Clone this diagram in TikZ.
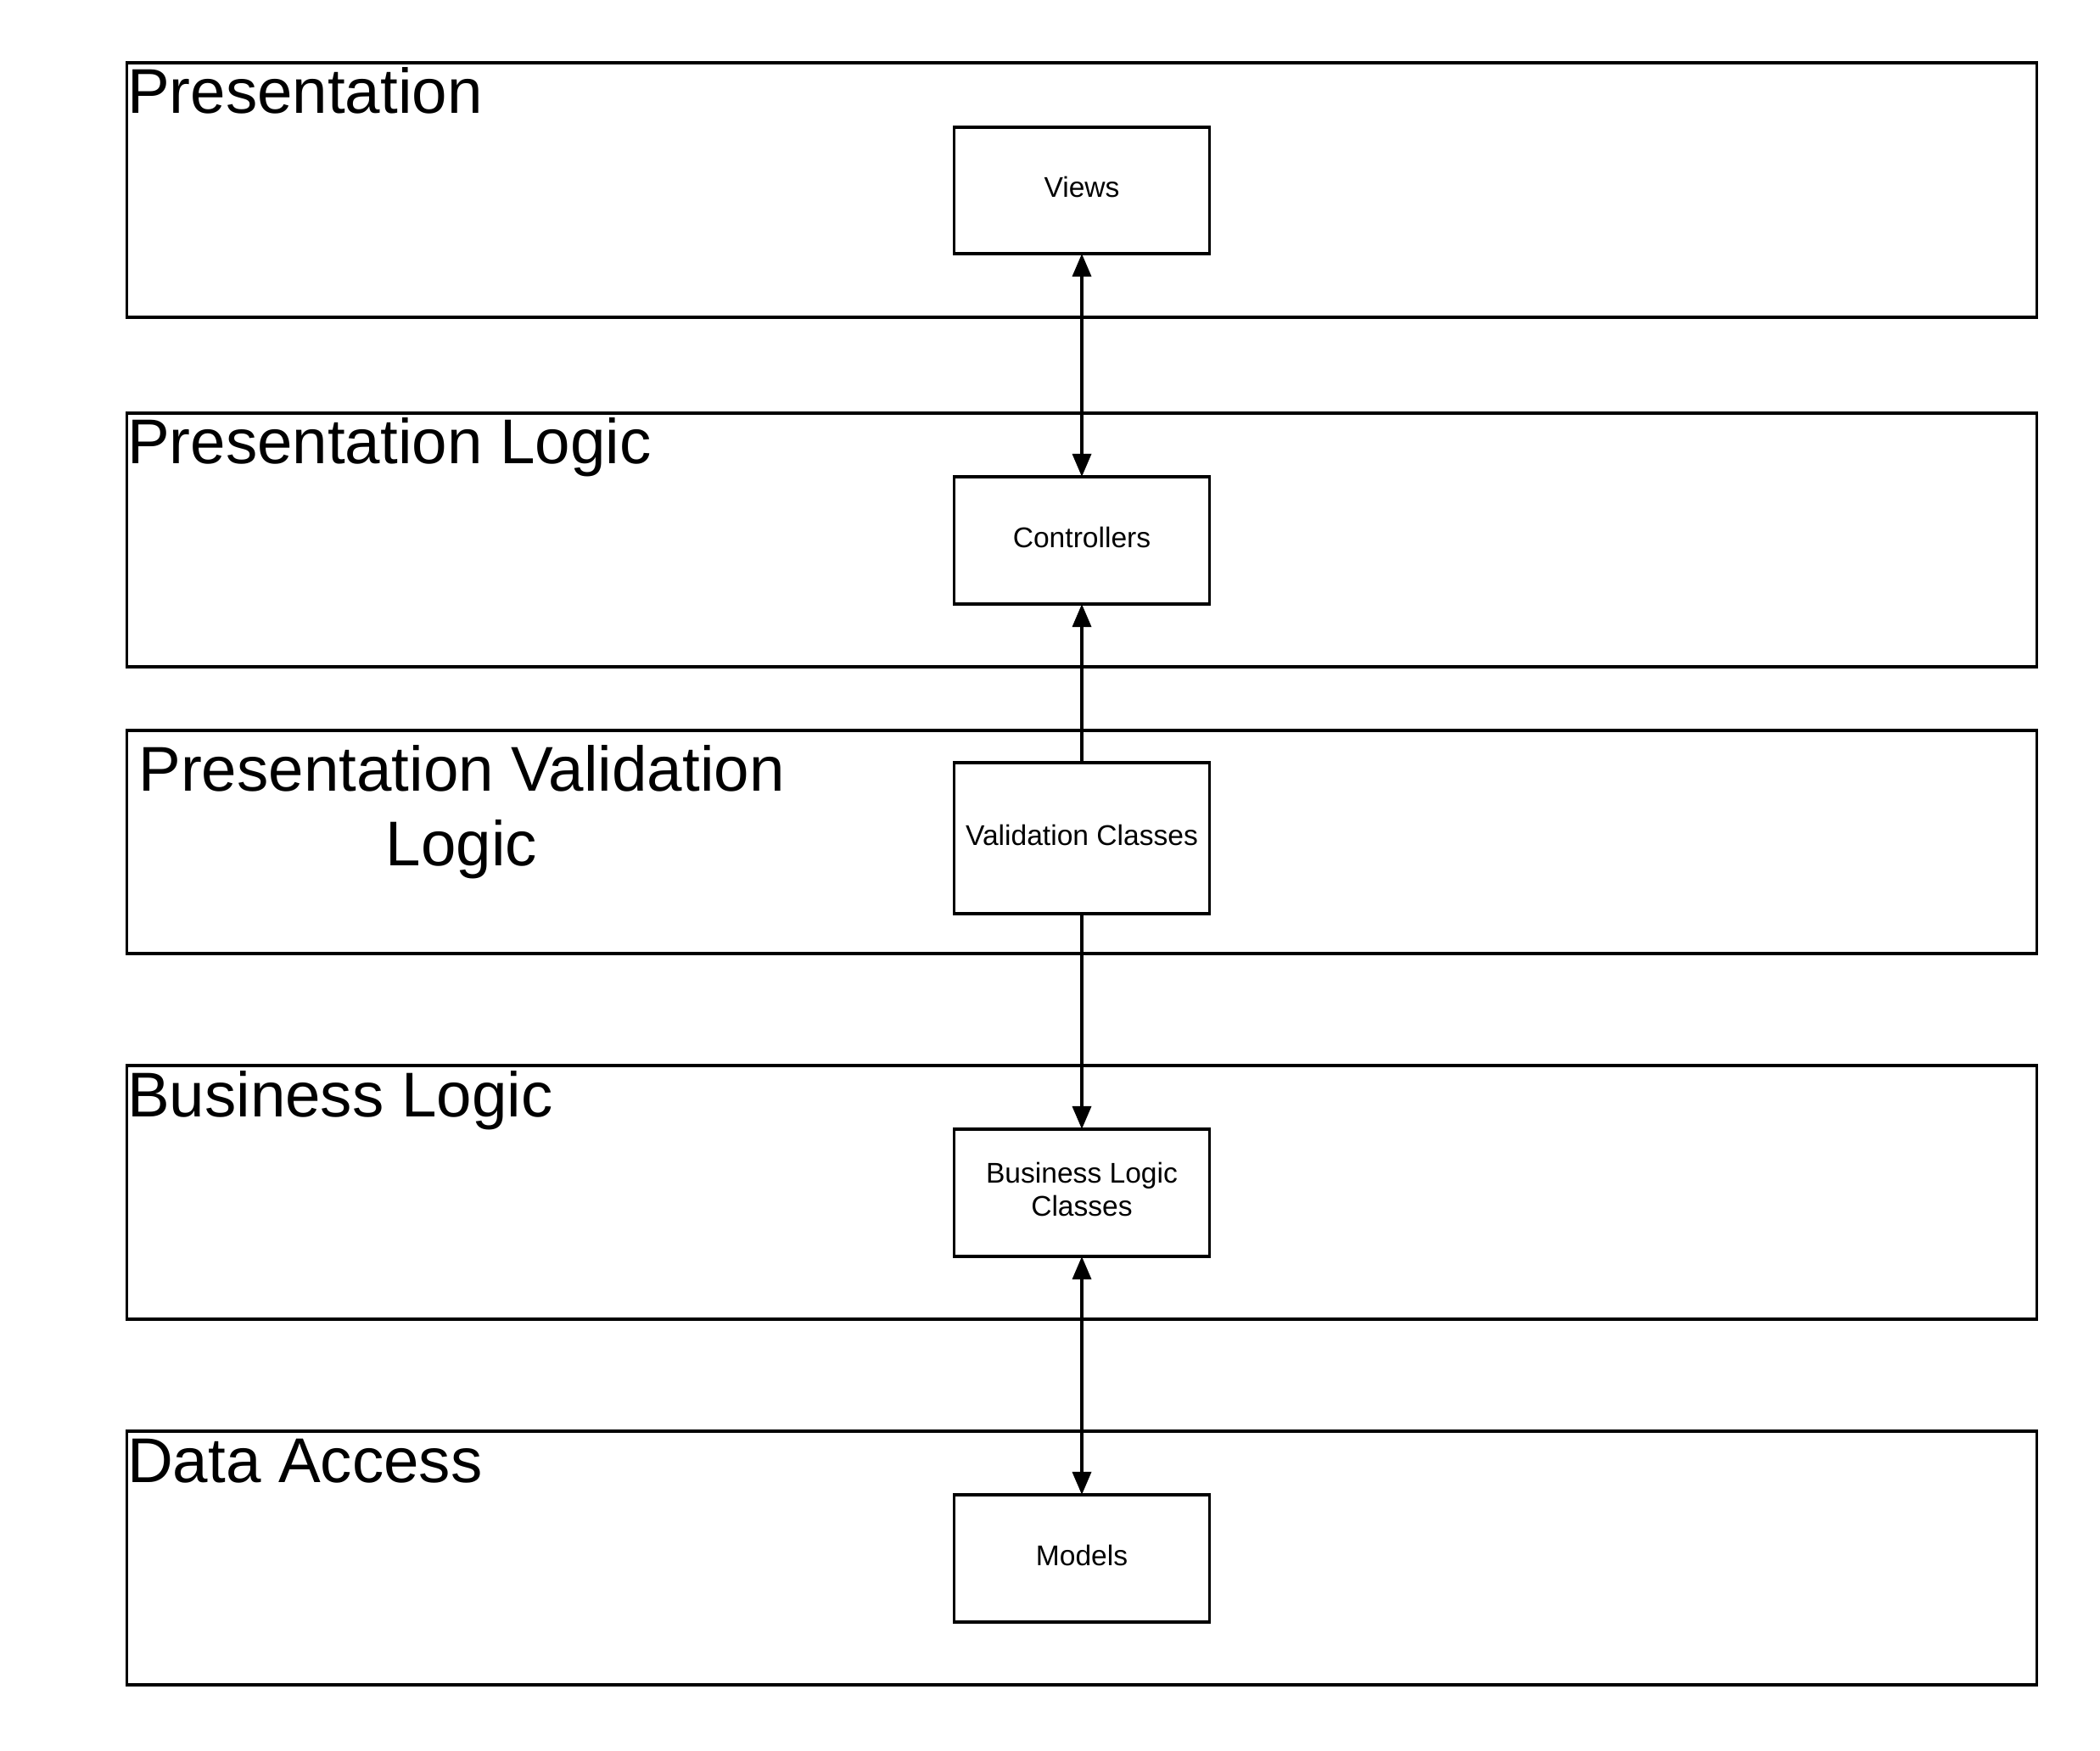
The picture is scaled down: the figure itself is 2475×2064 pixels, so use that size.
\documentclass[tikz,border=0pt]{standalone}
\usepackage{fontspec}
\setmainfont{Liberation Sans}
\usetikzlibrary{arrows.meta}
\begin{document}
\begin{tikzpicture}[x=0.01cm, y=-0.01cm,
  layerbox/.style={draw=black, line width=1pt, minimum width=22.5cm, inner sep=0pt, outer sep=0pt},
  compbox/.style={draw=black, line width=1pt, minimum width=3.01cm, inner sep=2pt, outer sep=0pt,
    align=center, text depth=0.08cm, font=\fontsize{9.55pt}{11.2pt}\selectfont},
  layertitle/.style={inner sep=0pt, outer sep=0pt, align=center, font=\fontsize{21.2pt}{25pt}\selectfont},
  arr/.style={line width=1pt, -{Triangle[length=0.27cm, width=0.22cm]}},
  arrboth/.style={line width=1pt, {Triangle[length=0.27cm, width=0.22cm]}-{Triangle[length=0.27cm, width=0.22cm]}}
]
\useasboundingbox[fill=white] (0,0) rectangle (2475,2064);

% layers
\node[layerbox, minimum height=3.00cm] (L1) at (1275,224) {};
\node[layerbox, minimum height=2.99cm] (L2) at (1275,636.5) {};
\node[layerbox, minimum height=2.63cm] (L3) at (1275,992.5) {};
\node[layerbox, minimum height=2.99cm] (L4) at (1275,1405.5) {};
\node[layerbox, minimum height=2.99cm] (L5) at (1275,1836.5) {};

% layer titles
\node[layertitle, anchor=base west] (T1) at (150,134) {Presentation};
\node[layertitle, anchor=base west] (T2) at (150,547) {Presentation Logic};
\node[layertitle, anchor=center] (T3) at (544,957) {Presentation Validation\\Logic};
\node[layertitle, anchor=base west] (T4) at (150,1316) {Business Logic};
\node[layertitle, anchor=base west] (T5) at (150,1747) {Data Access};

% components
\node[compbox, minimum height=1.49cm] (views) at (1275,224.5) {Views};
\node[compbox, minimum height=1.50cm] (ctrl) at (1275,637) {Controllers};
\node[compbox, minimum height=1.78cm] (valid) at (1275,988) {Validation Classes};
\node[compbox, minimum height=1.50cm] (biz) at (1275,1406) {Business Logic\\Classes};
\node[compbox, minimum height=1.50cm] (models) at (1275,1837) {Models};

% connectors
\draw[arrboth] (views) -- (ctrl);
\draw[arr] (valid) -- (ctrl);
\draw[arr] (valid) -- (biz);
\draw[arrboth] (biz) -- (models);
\end{tikzpicture}
\end{document}
